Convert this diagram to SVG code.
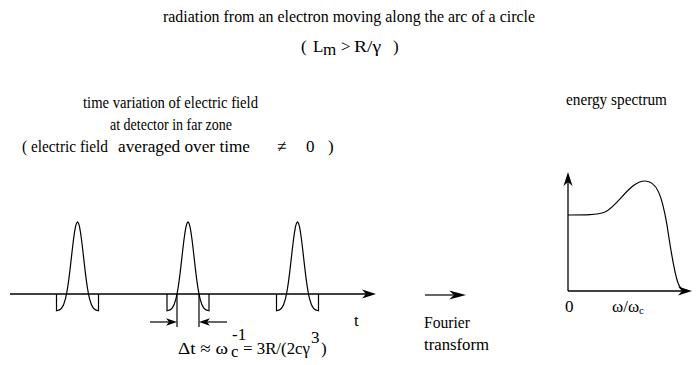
<svg xmlns="http://www.w3.org/2000/svg" width="697" height="365" viewBox="0 0 697 365">
<style>
text{font-family:"Liberation Serif","Times New Roman","DejaVu Serif",serif;fill:#000;font-size:17px}
.ln{fill:none;stroke:#000;stroke-width:1.2}
.ax{fill:none;stroke:#000;stroke-width:1.3}
.hd{fill:#000;stroke:none}
</style>
<defs>
<path id="hd" d="M0,0 L-14,-4.5 L-10,0 L-14,4.5 z"/>
<path id="hds" d="M0,0 L-11,-3.8 L-8,0 L-11,3.8 z"/>
<polyline id="pulse" class="ln" points="-21,294 -21,310.8 -18,309.9 -16,308.3 -14,304.9 -12,298.6 -11,294 -10,288.3 -9,281.6 -8,273.9 -7,265.4 -6,256.6 -5,247.8 -4,239.5 -3,232.3 -2,226.7 -1,223.2 0,222 1,223.2 2,226.7 3,232.3 4,239.5 5,247.8 6,256.6 7,265.4 8,273.9 9,281.6 10,288.3 11,294 12,298.6 14,304.9 16,308.3 18,309.9 21,310.8 21,294"/>
</defs>
<g id="title">
<text x="163" y="22" textLength="372" lengthAdjust="spacingAndGlyphs">radiation from an electron moving along the arc of a circle</text>
<text x="301" y="52" font-size="16">(</text>
<text x="313" y="52" font-size="16">L</text>
<text x="323" y="55" font-size="11">m</text>
<text x="341" y="52" font-size="16">&gt;</text>
<text x="354" y="52" textLength="27" lengthAdjust="spacingAndGlyphs">R/γ</text>
<text x="393" y="52" font-size="16">)</text>
</g>
<g id="left-caption">
<text x="83" y="108" textLength="175" lengthAdjust="spacingAndGlyphs">time variation of electric field</text>
<text x="110" y="130" textLength="122" lengthAdjust="spacingAndGlyphs">at detector in far zone</text>
<text x="22" y="152" textLength="86" lengthAdjust="spacingAndGlyphs">( electric field</text>
<text x="118" y="152" textLength="132" lengthAdjust="spacingAndGlyphs">averaged over time</text>
<text x="277" y="152" font-size="15">≠</text>
<text x="306" y="152" font-size="16">0</text>
<text x="328" y="152" font-size="16">)</text>
</g>
<g id="time-plot">
<line class="ax" x1="10" y1="294" x2="366" y2="294"/>
<use href="#hd" class="hd" transform="translate(376,294)"/>
<use href="#pulse" x="77.5"/>
<use href="#pulse" x="188"/>
<use href="#pulse" x="297.5"/>
<text x="354" y="326" font-size="18">t</text>
</g>
<g id="connectors">
<line class="ln" x1="177" y1="294" x2="177" y2="327"/>
<line class="ln" x1="199" y1="294" x2="199" y2="327"/>
<line class="ln" x1="150" y1="322" x2="170" y2="322"/>
<use href="#hds" class="hd" transform="translate(177,322)"/>
<line class="ln" x1="227" y1="322" x2="206" y2="322"/>
<use href="#hds" class="hd" transform="translate(199,322) rotate(180)"/>
<line class="ln" x1="425" y1="295" x2="455" y2="295"/>
<use href="#hd" class="hd" transform="translate(466,295) scale(1.2,1)"/>
</g>
<g id="dt-label">
<text x="178" y="354" font-size="19" textLength="50" lengthAdjust="spacingAndGlyphs">Δt ≈ ω</text>
<text x="231" y="357" font-size="9">c</text>
<text x="232" y="340" font-size="9">-1</text>
<text x="243" y="354" font-size="15" textLength="67" lengthAdjust="spacingAndGlyphs">= 3R/(2cγ</text>
<text x="311" y="343" font-size="11">3</text>
<text x="321" y="354" font-size="15">)</text>
</g>
<g id="fourier">
<text x="424" y="328" textLength="46" lengthAdjust="spacingAndGlyphs">Fourier</text>
<text x="424" y="350" textLength="65" lengthAdjust="spacingAndGlyphs">transform</text>
</g>
<g id="spectrum">
<text x="566" y="105" textLength="101" lengthAdjust="spacingAndGlyphs">energy spectrum</text>
<line class="ax" x1="568" y1="291" x2="568" y2="180"/>
<use href="#hd" class="hd" transform="translate(568,172) rotate(-90)"/>
<line class="ax" x1="568" y1="291" x2="682" y2="291"/>
<use href="#hd" class="hd" transform="translate(692,291)"/>
<path class="ln" d="M568,215 C585,215 597,215 605,212 C618,206 630,181 645,181 C657,181 662,196 667,225 C671,252 674,272 678,283 C680,288 682,290 685,291"/>
<text x="565" y="312" font-size="16">0</text>
<text x="612" y="312" font-size="17">ω/ω<tspan font-size="11" dy="2">c</tspan></text>
</g>
</svg>
